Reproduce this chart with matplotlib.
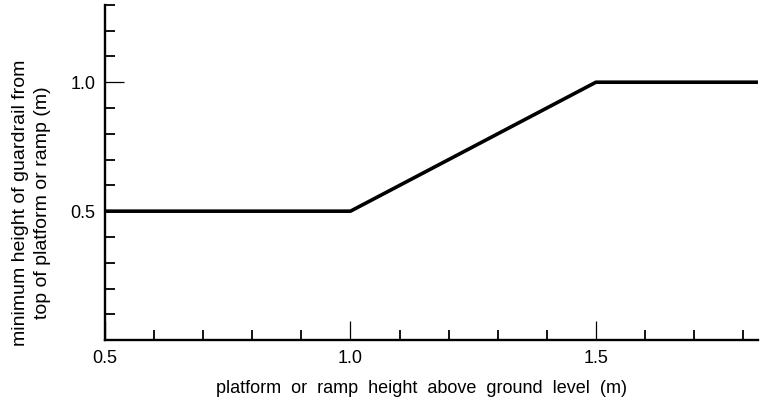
import numpy as np
import matplotlib.pyplot as plt
from matplotlib.ticker import MultipleLocator

plt.rcParams['font.family'] = ['Liberation Sans', 'DejaVu Sans']

# guardrail requirement curve
platform_h = [0.5, 1.0, 1.5, 1.83]
guardrail_h = [0.5, 0.5, 1.0, 1.0]

x_ticks = [0.5, 1.0, 1.5]
x_labels = ["0.5", "1.0", "1.5"]
y_ticks = [0.5, 1.0]
y_labels = ["0.5", "1.0"]

XLABEL = "platform  or  ramp  height  above  ground  level  (m)"
YLABEL = "minimum height of guardrail from\ntop of platform or ramp (m)"

fig = plt.figure(figsize=(7.61, 4.03), dpi=100)
ax = fig.add_axes([0.138, 0.156, 0.858, 0.832])

ax.plot(platform_h, guardrail_h, color="black", linewidth=2.6, solid_capstyle="butt")

ax.set_xlim(0.5, 1.83)
ax.set_ylim(0.0, 1.3)

ax.spines["top"].set_visible(False)
ax.spines["right"].set_visible(False)
ax.spines["left"].set_linewidth(1.7)
ax.spines["bottom"].set_linewidth(1.7)

ax.set_xticks(x_ticks)
ax.set_xticklabels(x_labels)
ax.set_yticks(y_ticks)
ax.set_yticklabels(y_labels)
ax.xaxis.set_minor_locator(MultipleLocator(0.1))
ax.yaxis.set_minor_locator(MultipleLocator(0.1))

ax.tick_params(axis="both", which="major", direction="in", length=14, width=0.9,
               labelsize=13, pad=7)
ax.tick_params(axis="both", which="minor", direction="in", length=7.5, width=1.3)

# axis titles placed by hand to sit where the original has them
ax.text(0.484, -0.145, XLABEL, transform=ax.transAxes, fontsize=13,
        ha="center", va="center")
ax.text(-0.112, 0.41, YLABEL, transform=ax.transAxes, fontsize=14,
        ha="center", va="center", rotation=90, linespacing=1.4)

plt.savefig("out.png", dpi=100)
